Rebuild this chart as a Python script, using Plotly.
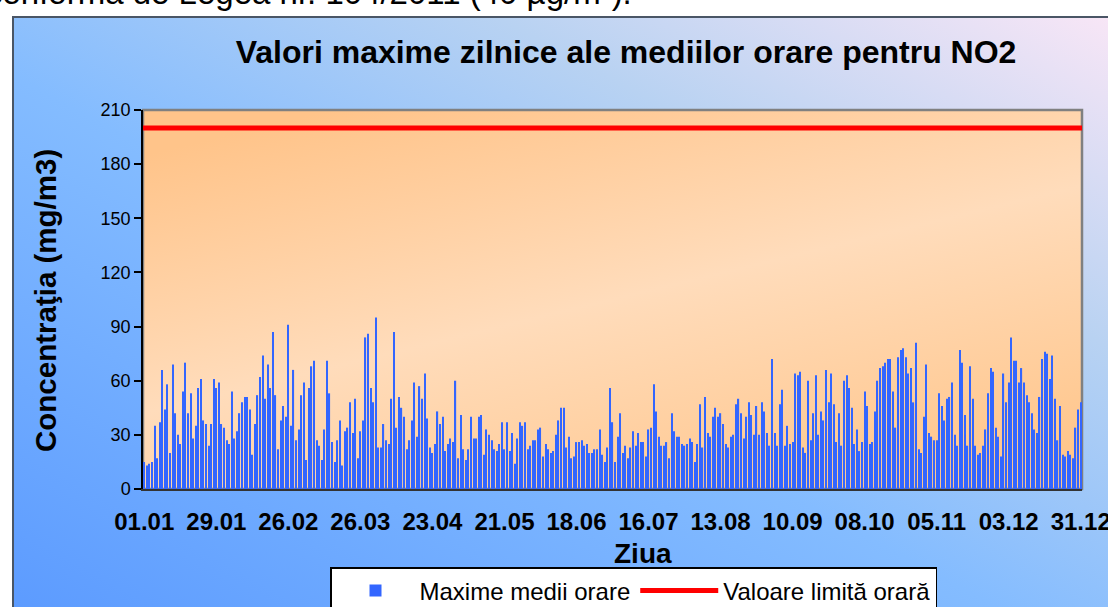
import base64
import pandas as pd
import plotly.graph_objects as go

# ---------------- data ----------------
year = 2011
days = pd.date_range(f"{year}-01-01", f"{year}-12-31", freq="D")
day_labels = [d.strftime("%d.%m") for d in days]

max_days_001_062 = [15, 13, 14, 15, 35, 17, 37, 66, 44, 58, 20, 69, 42, 30, 25, 54, 70, 42, 53, 28,
                    35, 56, 61, 38, 36, 24, 36, 61, 56, 59, 36, 34, 27, 25, 54, 28, 32, 42, 48, 51,
                    51, 44, 19, 36, 52, 62, 74, 50, 69, 56, 87, 52, 22, 38, 46, 40, 91, 35, 66, 27,
                    33, 52]
max_days_063_122 = [59, 16, 56, 68, 71, 27, 24, 16, 33, 71, 53, 26, 15, 27, 38, 13, 32, 34, 48, 31,
                    50, 17, 32, 38, 84, 86, 56, 48, 95, 23, 23, 36, 27, 25, 50, 87, 34, 51, 45, 40,
                    22, 27, 38, 59, 29, 57, 50, 64, 39, 23, 20, 25, 43, 36, 40, 21, 25, 28, 26, 60]
max_days_123_182 = [17, 41, 22, 16, 22, 40, 28, 28, 40, 41, 19, 33, 30, 27, 22, 21, 25, 37, 22, 37,
                    21, 31, 14, 28, 37, 35, 37, 22, 24, 27, 27, 33, 34, 18, 25, 22, 20, 21, 30, 38,
                    45, 45, 23, 29, 17, 18, 26, 26, 27, 24, 25, 20, 20, 22, 22, 33, 19, 15, 23, 56]
max_days_183_242 = [37, 15, 29, 42, 20, 24, 17, 23, 32, 24, 31, 26, 26, 18, 33, 34, 58, 43, 29, 24,
                    24, 26, 17, 42, 32, 29, 29, 25, 24, 25, 28, 26, 15, 25, 47, 23, 51, 31, 29, 40,
                    45, 40, 42, 36, 25, 23, 29, 30, 47, 50, 42, 28, 40, 48, 41, 30, 46, 30, 48, 43]
max_days_243_302 = [31, 24, 72, 31, 24, 47, 55, 24, 35, 25, 26, 64, 63, 65, 23, 20, 60, 27, 42, 63,
                    30, 43, 38, 66, 48, 64, 47, 26, 42, 24, 60, 63, 56, 45, 25, 33, 21, 26, 54, 46,
                    25, 26, 43, 60, 67, 68, 70, 72, 72, 54, 34, 73, 77, 78, 73, 64, 67, 48, 81, 22]
max_days_303_365 = [20, 40, 69, 31, 29, 27, 27, 53, 46, 38, 50, 51, 59, 30, 24, 77, 70, 41, 24, 68,
                    50, 24, 19, 20, 24, 33, 53, 67, 65, 34, 29, 18, 64, 48, 59, 84, 71, 71, 59, 67,
                    59, 52, 48, 42, 33, 31, 51, 72, 76, 75, 61, 74, 50, 27, 46, 19, 18, 21, 19, 17,
                    34, 44, 48]

limit_value = 200
tick_labels = ["01.01", "29.01", "26.02", "26.03", "23.04", "21.05", "18.06",
               "16.07", "13.08", "10.09", "08.10", "05.11", "03.12", "31.12"]
y_ticks = [0, 30, 60, 90, 120, 150, 180, 210]

daily_max = (max_days_001_062 + max_days_063_122 + max_days_123_182 +
             max_days_183_242 + max_days_243_302 + max_days_303_365)

# ---------------- geometry helpers ----------------
W, H = 1108, 607
PL, PR, PT, PB = 143, 1082, 110, 489
PW, PH = PR - PL, PB - PT


def px_x(px):
    return (px - PL) / PW


def px_y(py):
    return (PB - py) / PH


def svg_uri(svg):
    return "data:image/svg+xml;base64," + base64.b64encode(svg.encode()).decode()


outer_svg = svg_uri(
    '<svg xmlns="http://www.w3.org/2000/svg" width="100" height="100" viewBox="0 0 100 100" '
    'preserveAspectRatio="none"><defs><linearGradient id="g" x1="0" y1="1" x2="1" y2="0">'
    '<stop offset="0" stop-color="#5c9bff"/><stop offset="0.45" stop-color="#84bcff"/>'
    '<stop offset="0.72" stop-color="#b8d2f2"/><stop offset="1" stop-color="#f8e6f6"/>'
    '</linearGradient></defs><rect x="0" y="0" width="100" height="100" fill="url(#g)"/></svg>')
plot_svg = svg_uri(
    '<svg xmlns="http://www.w3.org/2000/svg" width="100" height="100" viewBox="0 0 100 100" '
    'preserveAspectRatio="none"><defs><linearGradient id="p" x1="0.2" y1="0" x2="0.8" y2="1">'
    '<stop offset="0" stop-color="#ffc48a"/><stop offset="0.5" stop-color="#ffdcbb"/>'
    '<stop offset="1" stop-color="#ffc68c"/>'
    '</linearGradient></defs><rect x="0" y="0" width="100" height="100" fill="url(#p)"/></svg>')

FONT = "Liberation Sans, Arial, sans-serif"

fig = go.Figure()
fig.add_trace(go.Bar(
    x=day_labels, y=daily_max, name="Maxime medii orare",
    marker=dict(color="#3366ff", line=dict(width=0)),
))
fig.add_trace(go.Scatter(
    x=[0, 1], y=[limit_value, limit_value], xaxis="x2", mode="lines",
    name="Valoare limită orară", line=dict(color="#ff0000", width=5),
))

fig.update_layout(
    width=W, height=H, autosize=False,
    margin=dict(l=PL, r=W - PR, t=PT, b=H - PB, pad=0, autoexpand=False),
    paper_bgcolor="white", plot_bgcolor="rgba(0,0,0,0)",
    font=dict(family=FONT, color="black"),
    bargap=0.55, showlegend=True,
    title=dict(text="Valori maxime zilnice ale mediilor orare pentru NO2",
               font=dict(size=32, weight="bold", family=FONT, color="black"),
               x=626 / W, xref="container", xanchor="center",
               y=1 - 52 / H, yref="container", yanchor="middle"),
    xaxis=dict(type="category", range=[-0.5, len(day_labels) - 0.5],
               tickmode="array", tickvals=tick_labels, ticktext=tick_labels,
               tickangle=0, ticks="", showgrid=False, zeroline=False,
               showline=True, linecolor="#333333", linewidth=2,
               tickfont=dict(size=24, weight="bold", family=FONT, color="black"),
               ticklabelstandoff=10),
    xaxis2=dict(overlaying="x", anchor="y", range=[0, 1], visible=False),
    yaxis=dict(range=[0, 210], tickmode="array", tickvals=y_ticks,
               ticks="outside", ticklen=7, tickwidth=1.5, tickcolor="black",
               showline=True, linecolor="black", linewidth=1.5,
               showgrid=False, zeroline=False,
               tickfont=dict(size=18, family=FONT, color="black")),
    legend=dict(orientation="h", x=px_x(330), y=px_y(567), xanchor="left", yanchor="top",
                bgcolor="white", bordercolor="black", borderwidth=1.5,
                font=dict(size=24, family=FONT, color="black"), itemwidth=78),
    images=[
        dict(source=outer_svg, xref="paper", yref="paper", x=px_x(13), y=px_y(17),
             sizex=(W + 2 - 13) / PW, sizey=(H + 2 - 17) / PH,
             xanchor="left", yanchor="top", sizing="stretch", layer="below"),
        dict(source=plot_svg, xref="paper", yref="paper", x=0, y=1, sizex=1, sizey=1,
             xanchor="left", yanchor="top", sizing="stretch", layer="below"),
    ],
    shapes=[
        dict(type="rect", xref="paper", yref="paper", x0=px_x(13), y0=px_y(H + 5),
             x1=px_x(W + 5), y1=px_y(17), line=dict(color="#4a5666", width=2), layer="below"),
        dict(type="rect", xref="paper", yref="paper", x0=0, y0=0, x1=1, y1=1,
             line=dict(color="#808080", width=2.5), layer="below"),
    ],
    annotations=[
        dict(text="Concentraţia (mg/m3)", textangle=-90, xref="paper", yref="paper",
             x=px_x(45), y=px_y(301), showarrow=False, xanchor="center", yanchor="middle",
             font=dict(size=29.5, weight="bold", family=FONT, color="black")),
        dict(text="Ziua", xref="paper", yref="paper", x=px_x(643), y=px_y(553),
             showarrow=False, xanchor="center", yanchor="middle",
             font=dict(size=28, weight="bold", family=FONT, color="black")),
        dict(text="conformă de Legea nr. 104/2011 (40 µg/m³).", xref="paper", yref="paper",
             x=px_x(-16), y=px_y(-7), showarrow=False, xanchor="left", yanchor="middle",
             font=dict(size=33, family=FONT, color="black")),
    ],
)

fig.write_html("out.html",
               config={"displayModeBar": False},
               post_script="document.body.style.margin='0';document.body.style.overflow='hidden';")
